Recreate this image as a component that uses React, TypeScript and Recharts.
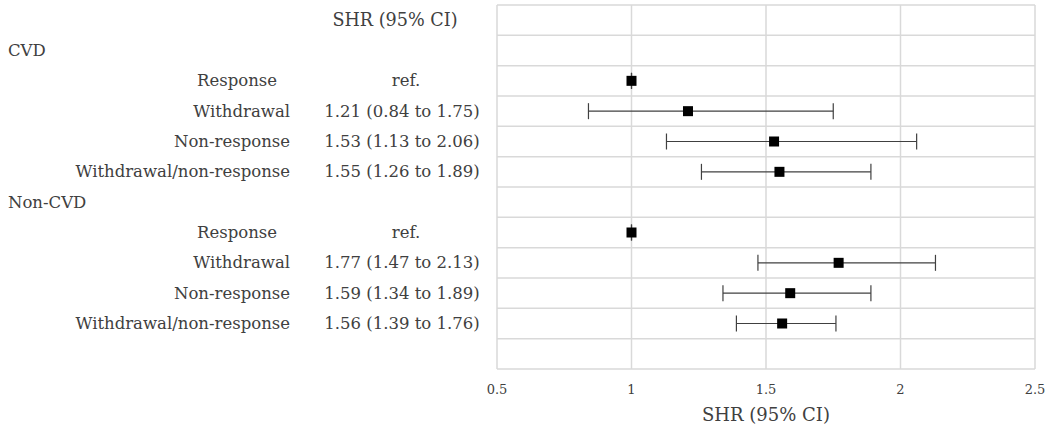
import React from 'react';
import { ScatterChart, Scatter, XAxis, YAxis, CartesianGrid, ErrorBar } from 'recharts';

const groups = ['CVD', 'Non-CVD'];
const categories = ['Response', 'Withdrawal', 'Non-response', 'Withdrawal/non-response'];
const cvdShr = [1, 1.21, 1.53, 1.55];
const cvdLow = [1, 0.84, 1.13, 1.26];
const cvdHigh = [1, 1.75, 2.06, 1.89];
const nonCvdShr = [1, 1.77, 1.59, 1.56];
const nonCvdLow = [1, 1.47, 1.34, 1.39];
const nonCvdHigh = [1, 2.13, 1.89, 1.76];
const xTicks = [0.5, 1, 1.5, 2, 2.5];
const headerLabel = 'SHR (95% CI)';
const axisTitle = 'SHR (95% CI)';
const refLabel = 'ref.';

type Row = { kind: 'header' | 'group' | 'item' | 'blank'; label?: string; ci?: string; isRef?: boolean };

const seriesByGroup = [
  { shr: cvdShr, lo: cvdLow, hi: cvdHigh },
  { shr: nonCvdShr, lo: nonCvdLow, hi: nonCvdHigh },
];

const rows: Row[] = [{ kind: 'header', ci: headerLabel }];
const points: { x: number; y: number; err: [number, number] }[] = [];
groups.forEach((g, gi) => {
  rows.push({ kind: 'group', label: g });
  const s = seriesByGroup[gi];
  categories.forEach((c, ci) => {
    const isRef = ci === 0;
    const text = isRef
      ? refLabel
      : `${s.shr[ci].toFixed(2)} (${s.lo[ci].toFixed(2)} to ${s.hi[ci].toFixed(2)})`;
    const rowIndex = rows.length;
    rows.push({ kind: 'item', label: c, ci: text, isRef });
    points.push({ x: s.shr[ci], y: rowIndex + 0.5, err: [s.shr[ci] - s.lo[ci], s.hi[ci] - s.shr[ci]] });
  });
});
rows.push({ kind: 'blank' });

const nRows = rows.length;
const gridTicks = rows.map((_, i) => i).concat([nRows]);
const centerTicks = rows.map((_, i) => i + 0.5);

const FONT = '"DejaVu Serif", serif';
const TEXT = '#404040';
const FS = 16.5;

const RowTick = (props: any) => {
  const { y, payload } = props;
  const row = rows[Math.floor(payload.value)];
  if (!row) return null;
  const common = { fontFamily: FONT, fontSize: FS, fill: TEXT, dominantBaseline: 'central' as const };
  if (row.kind === 'header') {
    return <text x={395} y={y} textAnchor="middle" {...common} fontSize={17.6}>{row.ci}</text>;
  }
  if (row.kind === 'group') {
    return <text x={8} y={y} textAnchor="start" {...common}>{row.label}</text>;
  }
  if (row.kind === 'item') {
    return (
      <g>
        <text x={row.isRef ? 277 : 290} y={y} textAnchor="end" {...common}>{row.label}</text>
        <text x={row.isRef ? 406 : 402} y={y} textAnchor="middle" {...common}>{row.ci}</text>
      </g>
    );
  }
  return null;
};

const SquareShape = (props: any) => {
  const { cx, cy } = props;
  return <rect x={cx - 5} y={cy - 5} width={10} height={10} fill="#000" />;
};

export default function App() {
  return (
    <div style={{ position: 'absolute', left: 0, top: 0 }}>
      <ScatterChart width={1050} height={434} margin={{ top: 5, right: 15, bottom: 0, left: 0 }}>
        <CartesianGrid yAxisId="rows" horizontalValues={gridTicks} stroke="#d9d9d9" strokeWidth={1.5} />
        <XAxis
          type="number"
          dataKey="x"
          domain={[0.5, 2.5]}
          ticks={xTicks}
          allowDataOverflow
          axisLine={false}
          tickLine={false}
          tickSize={8}
          tickMargin={8}
          height={65}
          tick={{ fontFamily: FONT, fontSize: 13, fill: TEXT }}
          tickFormatter={(v: number) => String(v)}
          label={{ value: axisTitle, position: 'insideBottom', offset: 13, fontFamily: FONT, fontSize: 18, fill: TEXT }}
        />
        <YAxis
          yAxisId="rows"
          type="number"
          dataKey="y"
          domain={[0, nRows]}
          reversed
          ticks={centerTicks}
          interval={0}
          width={497}
          axisLine={false}
          tickLine={false}
          tick={<RowTick />}
        />
        <Scatter yAxisId="rows" data={points} shape={<SquareShape />} isAnimationActive={false}>
          <ErrorBar dataKey="err" direction="x" width={8} stroke="#404040" strokeWidth={1.2} />
        </Scatter>
      </ScatterChart>
    </div>
  );
}
